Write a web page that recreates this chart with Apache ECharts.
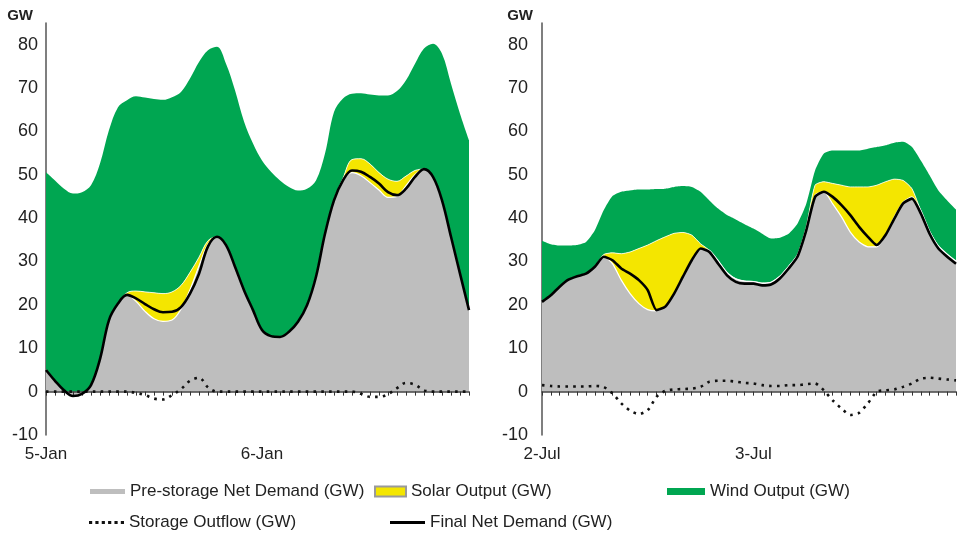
<!DOCTYPE html>
<html>
<head>
<meta charset="utf-8">
<script src="https://cdn.jsdelivr.net/npm/echarts@6/dist/echarts.min.js"></script>
<style>html,body{margin:0;padding:0;background:#fff}#c{width:959px;height:537px}</style>
</head>
<body>
<div id="c"></div>
<script>
// ---- Data (hourly, 48 points per panel) ----
const hours = Array.from({length: 48}, (_, i) => String(i));
const leftDays = ['5-Jan', '6-Jan'];
const rightDays = ['2-Jul', '3-Jul'];
const yTicks = {min: -10, max: 85, step: 10};

// Left panel (January)
const leftPreStorage = [5.0,2.5,0.3,-1.0,-0.5,1.5,7.5,16.5,20.3,22.3,20.8,18.5,16.8,16.2,16.5,19.0,23.5,29.0,34.0,35.7,33.8,28.8,23.4,18.8,14.2,12.8,12.6,13.8,16.1,19.9,26.5,36.4,44.1,48.7,50.5,49.8,48.2,46.5,44.8,45.0,47.5,50.0,51.3,49.5,44.1,35.7,27.2,18.8];
const leftSolar = [0,0,0,0,0,0,0,0,0,0.5,2.4,4.5,6.0,6.4,6.5,5.5,4.0,2.0,0.8,0,0,0,0,0,0,0,0,0,0,0,0,0,0,0.5,3.0,3.9,4.3,4.0,4.2,3.5,2.2,1.0,0,0,0,0,0,0];
const leftWind = [45.6,46.2,46.5,46.7,46.5,46.1,45.1,43.8,45.3,44.4,44.9,44.8,44.7,44.7,44.9,44.6,44.7,45.0,43.9,43.8,41.8,40.7,38.9,38.4,39.1,37.9,36.1,33.4,30.3,26.9,22.2,18.5,20.4,18.4,15.2,15.1,16.0,17.8,19.3,20.8,22.1,24.6,27.8,30.7,33.8,35.3,36.9,39.2];
const leftStorage = [0,0,0,0,0,0,0,0,0,0,-0.3,-0.8,-1.6,-1.8,-0.8,0.6,2.5,3.2,1.0,0,0,0,0,0,0,0,0,0,0,0,0,0,0,0,0,-0.5,-1.2,-1.2,-0.6,0.8,2.0,1.6,0.3,0,0,0,0,0];
const leftFinal = [5.0,2.5,0.3,-1.0,-0.5,1.5,7.5,16.5,20.3,22.3,21.5,20.2,19.0,18.3,18.4,19.5,22.6,27.2,33.5,35.7,33.8,28.8,23.4,18.8,14.2,12.8,12.6,13.8,16.1,19.9,26.5,36.4,44.1,48.7,51.0,50.7,49.5,48.0,46.0,45.3,46.8,49.5,51.3,49.5,44.1,35.7,27.2,18.8];

// Right panel (July)
const rightPreStorage = [20.7,22.2,24.2,25.8,26.6,27.2,28.8,31.3,29.5,25.7,22.6,20.3,18.9,18.6,19.6,22.6,26.5,30.3,33.0,32.6,30.2,27.5,26.0,25.5,25.4,25.0,25.2,26.6,28.9,31.5,37.5,45.3,46.1,43.3,40.3,36.8,34.5,33.4,33.4,36.1,40.3,43.7,44.9,41.8,37.0,33.6,31.7,30.1];
const rightSolar = [0,0,0,0,0,0,0,0.3,2.5,6.1,9.6,12.7,14.9,16.2,16.1,13.9,10.2,5.8,1.1,0,0,0,0,0,0,0,0,0,0,0,0.5,2.3,2.3,4.7,7.3,10.4,12.7,13.8,14.2,12.3,8.7,5.0,1.9,0,0,0,0,0];
const rightWind = [14.1,11.8,9.5,7.9,7.2,7.3,8.4,10.2,13.1,14.3,14.2,13.6,12.8,11.9,11.1,10.7,10.7,11.1,12.0,11.5,12.0,13.2,13.7,13.1,12.2,11.4,10.1,8.9,7.5,7.2,5.3,3.4,6.5,7.6,8.0,8.4,8.4,8.8,8.8,8.4,8.4,8.9,9.6,11.5,12.9,12.8,12.4,11.9];
const rightStorage = [1.5,1.3,1.2,1.2,1.2,1.2,1.3,1.1,-0.4,-2.7,-4.4,-5.2,-4.3,-1.2,0.2,0.5,0.6,0.7,1.1,2.3,2.5,2.5,2.3,2.0,1.9,1.5,1.3,1.3,1.5,1.5,1.7,1.9,0.3,-2.0,-3.9,-5.4,-4.9,-2.7,0,0.3,0.5,1.1,1.9,3.0,3.2,3.0,2.8,2.6];
const rightFinal = [20.7,22.2,24.2,25.8,26.6,27.2,28.8,31.1,30.3,28.4,27.2,25.7,23.4,18.8,19.6,22.6,26.5,30.3,33.0,32.2,29.5,26.8,25.3,24.9,24.9,24.5,24.7,26.1,28.4,31.1,37.2,44.9,46.1,44.9,43.0,40.7,38.0,35.7,33.8,36.1,39.9,43.4,44.5,41.1,36.4,33.0,31.1,29.5];

const NAMES = {
  pre: 'Pre-storage Net Demand (GW)',
  solar: 'Solar Output (GW)',
  wind: 'Wind Output (GW)',
  storage: 'Storage Outflow (GW)',
  final: 'Final Net Demand (GW)'
};

// ---- Styling ----
const FONT = "'Liberation Sans', Arial, Helvetica, sans-serif";
const TXT = '#222';
const C_GRAY = '#bebebe', C_YELLOW = '#f4e600', C_GREEN = '#00a651';

const panels = [
  {days: leftDays, pre: leftPreStorage, solar: leftSolar, wind: leftWind, storage: leftStorage, fin: leftFinal, left: 46, labelMargin: 8, namePad: 13, smooth: 0.35},
  {days: rightDays, pre: rightPreStorage, solar: rightSolar, wind: rightWind, storage: rightStorage, fin: rightFinal, left: 542, labelMargin: 14, namePad: 9, smooth: 0.2}
];

const grid = [], xAxis = [], yAxis = [], series = [];
panels.forEach((p, g) => {
  grid.push({left: p.left, top: 23, width: 423, height: 412});
  // label axis at the bottom
  xAxis.push({
    type: 'category', gridIndex: g, data: hours, boundaryGap: false, position: 'bottom',
    axisLine: {show: false, onZero: false}, axisTick: {show: false}, splitLine: {show: false},
    axisLabel: {interval: 0, margin: 11, fontSize: 17, color: TXT, fontFamily: FONT,
      formatter: (v, i) => (i % 24 === 0 ? (p.days[i / 24] || '') : '')}
  });
  // zero line with hourly ticks
  xAxis.push({
    type: 'category', gridIndex: g, data: hours, boundaryGap: false, position: 'top', z: 10,
    axisLine: {show: true, onZero: true, lineStyle: {color: '#444', width: 1.5}},
    axisTick: {show: true, inside: true, length: 4, interval: 0, lineStyle: {color: '#333', width: 1}},
    axisLabel: {show: false}, splitLine: {show: false}
  });
  yAxis.push({
    type: 'value', gridIndex: g, min: yTicks.min, max: yTicks.max, interval: yTicks.step,
    name: 'GW', nameLocation: 'end', nameGap: 0,
    nameTextStyle: {fontWeight: 'bold', fontSize: 15, color: TXT, fontFamily: FONT, align: 'right', padding: [0, p.namePad, 0, 0]},
    axisLine: {show: true, onZero: false, lineStyle: {color: '#555', width: 1.5}},
    axisTick: {show: false}, splitLine: {show: false},
    axisLabel: {fontSize: 18, color: TXT, fontFamily: FONT, margin: p.labelMargin, showMaxLabel: false}
  });
  const xi = g * 2, st = 'stack' + g;
  series.push({
    name: NAMES.pre, type: 'line', xAxisIndex: xi, yAxisIndex: g, stack: st, stackStrategy: 'all',
    data: p.pre, symbol: 'none', smooth: p.smooth, z: 2,
    lineStyle: {color: '#ffffff', width: 1.2}, itemStyle: {color: C_GRAY},
    areaStyle: {color: C_GRAY, opacity: 1}
  });
  series.push({
    name: NAMES.solar, type: 'line', xAxisIndex: xi, yAxisIndex: g, stack: st, stackStrategy: 'all',
    data: p.solar, symbol: 'none', smooth: p.smooth, z: 2,
    lineStyle: {color: '#ffffff', width: 0.8}, itemStyle: {color: C_YELLOW, borderColor: '#9a9a9a', borderWidth: 1},
    areaStyle: {color: C_YELLOW, opacity: 1}
  });
  series.push({
    name: NAMES.wind, type: 'line', xAxisIndex: xi, yAxisIndex: g, stack: st, stackStrategy: 'all',
    data: p.wind, symbol: 'none', smooth: p.smooth, z: 1,
    lineStyle: {color: C_GREEN, width: 0}, itemStyle: {color: C_GREEN},
    areaStyle: {color: C_GREEN, opacity: 1}
  });
  series.push({
    name: NAMES.storage, type: 'line', xAxisIndex: xi, yAxisIndex: g,
    data: p.storage, symbol: 'none', smooth: p.smooth, z: 11,
    lineStyle: {color: '#111', width: 2.6, type: [2.6, 5.2]}, itemStyle: {color: '#111'}
  });
  series.push({
    name: NAMES.final, type: 'line', xAxisIndex: xi, yAxisIndex: g,
    data: p.fin, symbol: 'none', smooth: p.smooth, z: 12,
    lineStyle: {color: '#000', width: 2.6}, itemStyle: {color: '#000'}
  });
});

const legendText = {fontSize: 17, color: TXT, fontFamily: FONT};
const dotsIcon = 'path://M0,0h1v1h-1zM2,0h1v1h-1zM4,0h1v1h-1zM6,0h1v1h-1zM8,0h1v1h-1zM10,0h1v1h-1z';
const mkLegend = (name, icon, left, top, w, h) => ({
  data: [{name: name, icon: icon}], left: left, top: top, itemWidth: w, itemHeight: h,
  padding: 0, selectedMode: false, textStyle: legendText, symbolKeepAspect: false
});
const legend = [
  mkLegend(NAMES.pre, 'rect', 90, 483, 35, 5),
  mkLegend(NAMES.solar, 'rect', 374, 483, 31, 10),
  mkLegend(NAMES.wind, 'rect', 667, 483, 38, 7),
  mkLegend(NAMES.storage, dotsIcon, 89, 514, 35, 3),
  mkLegend(NAMES.final, 'rect', 390, 514, 35, 3)
];

const chart = echarts.init(document.getElementById('c'), null, {renderer: 'canvas'});
chart.setOption({
  animation: false,
  backgroundColor: '#ffffff',
  textStyle: {fontFamily: FONT},
  grid: grid, xAxis: xAxis, yAxis: yAxis, legend: legend, series: series
});
</script>
</body>
</html>
